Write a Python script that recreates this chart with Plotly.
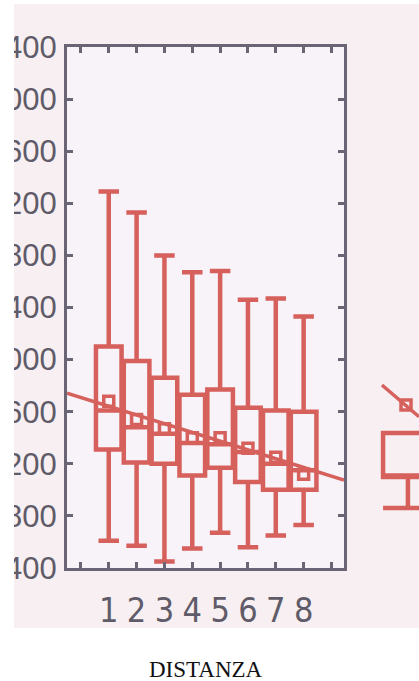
import plotly.graph_objects as go

# ---------------- data ----------------
categories = [1, 2, 3, 4, 5, 6, 7, 8]
upper_whisker = [3290, 3130, 2800, 2670, 2680, 2460, 2470, 2330]
q3_values = [2100, 1990, 1860, 1730, 1770, 1630, 1610, 1600]
median_values = [1610, 1480, 1430, 1360, 1350, 1290, 1200, 1150]
q1_values = [1310, 1210, 1200, 1110, 1170, 1060, 1000, 1000]
lower_whisker = [610, 570, 450, 550, 670, 560, 650, 730]
mean_values = [1680, 1540, 1470, 1400, 1400, 1320, 1250, 1120]

fit_x = [-0.5, 9.45]
fit_y = [1743, 1075]

# cropped neighbouring panel (right edge)
frag_x = [0]
frag_q1 = [1098]
frag_median = [1110]
frag_q3 = [1436]
frag_lower = [860]
frag_upper = [1436]
frag_mean_x = [-0.07]
frag_mean_y = [1651]
frag_line_x = [-0.94, 0.4]
frag_line_y = [1805, 1561]

x_tickvals = [0, 1, 2, 3, 4, 5, 6, 7, 8, 9]
x_ticktext = ["", "1", "2", "3", "4", "5", "6", "7", "8", ""]
y_tickvals = [400, 800, 1200, 1600, 2000, 2400, 2800, 3200, 3600, 4000, 4400]
y_ticktext = [str(v) for v in y_tickvals]
x_title = "DISTANZA"

# ---------------- style ----------------
RED = "#d6605b"
AXIS = "#6a6574"
LABEL = "#605b68"
SCAN = "#f7eff1"
PLOTBG = "#f8f3f9"

W, H = 419, 681
L, R, T, B = 67, 0, 47, 113
pw = W - L - R

fig = go.Figure()

fig.add_trace(go.Box(
    x=categories, q1=q1_values, median=median_values, q3=q3_values,
    lowerfence=lower_whisker, upperfence=upper_whisker,
    boxpoints=False, width=0.92, whiskerwidth=0.8,
    line=dict(color=RED, width=4.5), fillcolor="rgba(0,0,0,0)",
    showlegend=False, hoverinfo="skip",
))
fig.add_trace(go.Scatter(
    x=fit_x, y=fit_y, mode="lines",
    line=dict(color=RED, width=3.5), showlegend=False, hoverinfo="skip",
))
fig.add_trace(go.Scatter(
    x=categories, y=mean_values, mode="markers",
    marker=dict(symbol="square-open", size=10, color=RED, line=dict(width=3.5, color=RED)),
    showlegend=False, hoverinfo="skip",
))

# fragment of next panel
fig.add_trace(go.Box(
    x=frag_x, q1=frag_q1, median=frag_median, q3=frag_q3,
    lowerfence=frag_lower, upperfence=frag_upper,
    boxpoints=False, width=1.8, whiskerwidth=1.0,
    line=dict(color=RED, width=4.5), fillcolor="rgba(0,0,0,0)",
    xaxis="x2", yaxis="y", showlegend=False, hoverinfo="skip",
))
fig.add_trace(go.Scatter(
    x=frag_line_x, y=frag_line_y, mode="lines",
    line=dict(color=RED, width=3.5), xaxis="x2", yaxis="y",
    showlegend=False, hoverinfo="skip",
))
fig.add_trace(go.Scatter(
    x=frag_mean_x, y=frag_mean_y, mode="markers",
    marker=dict(symbol="square-open", size=10, color=RED, line=dict(width=3.5, color=RED)),
    xaxis="x2", yaxis="y", showlegend=False, hoverinfo="skip",
))

def px_x(p):
    return (p - L) / pw

def px_y(p):
    return 1 - (p - T) / (H - T - B)

fig.update_layout(
    width=W, height=H,
    margin=dict(l=L, r=R, t=T, b=B, pad=0, autoexpand=False),
    paper_bgcolor=SCAN,
    plot_bgcolor=SCAN,
    xaxis=dict(
        domain=[0, px_x(344)], range=[-0.5, 9.45], automargin=False,
        tickvals=x_tickvals, ticktext=x_ticktext,
        ticks="inside", ticklen=6, tickwidth=2.5, tickcolor=AXIS,
        showline=True, linecolor=AXIS, linewidth=3, mirror="ticks",
        showgrid=False, zeroline=False,
        tickfont=dict(family="Liberation Sans Narrow, DejaVu Sans Condensed, Arial", size=34, color=LABEL),
        ticklabelstandoff=10,
    ),
    xaxis2=dict(
        domain=[px_x(372), 1], range=[-1.3, 0.4], anchor="y",
        visible=False, showgrid=False, zeroline=False,
    ),
    yaxis=dict(
        range=[400, 4400], tickvals=y_tickvals, ticktext=y_ticktext, automargin=False,
        ticks="inside", ticklen=6, tickwidth=2.5, tickcolor=AXIS,
        showline=True, linecolor=AXIS, linewidth=3, mirror="ticks",
        showgrid=False, zeroline=False,
        tickfont=dict(family="Liberation Sans, Arial", size=31, color=LABEL),
        ticklabelstandoff=1,
    ),
    shapes=[
        dict(type="rect", xref="x domain", yref="y domain", x0=0, x1=1, y0=0, y1=1,
             fillcolor=PLOTBG, line=dict(width=0), layer="below"),
        dict(type="rect", xref="paper", yref="paper", x0=px_x(-5), x1=px_x(14),
             y0=px_y(700), y1=px_y(-5), fillcolor="white", line=dict(width=0), layer="above"),
        dict(type="rect", xref="paper", yref="paper", x0=px_x(-5), x1=px_x(430),
             y0=px_y(700), y1=px_y(628), fillcolor="white", line=dict(width=0), layer="above"),
        dict(type="rect", xref="paper", yref="paper", x0=px_x(-5), x1=px_x(430),
             y0=px_y(4), y1=px_y(-5), fillcolor="white", line=dict(width=0), layer="above"),
    ],
    annotations=[
        dict(text=x_title, xref="paper", yref="paper", x=px_x(205.5), y=px_y(669.5),
             xanchor="center", yanchor="middle", showarrow=False,
             font=dict(family="Liberation Serif, Times New Roman", size=23, color="#111111")),
    ],
)

fig.write_html("out.html")
